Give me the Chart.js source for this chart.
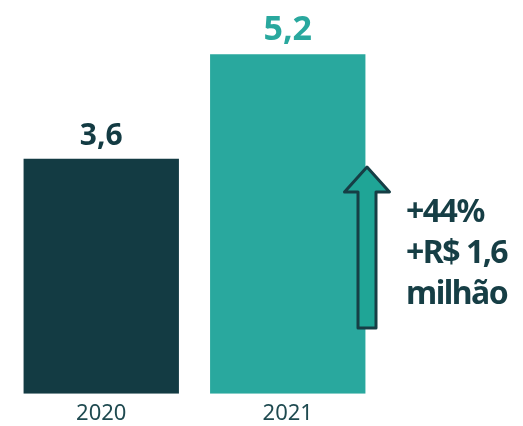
<!DOCTYPE html>
<html>
<head>
<meta charset="utf-8">
<script src="https://cdn.jsdelivr.net/npm/chart.js@4.4.1/dist/chart.umd.min.js"></script>
<style>
  html, body { margin: 0; padding: 0; background: #fff; }
  #wrap { width: 523px; height: 426px; position: relative; }
</style>
</head>
<body>
<div id="wrap"><canvas id="chart"></canvas></div>
<script>
const years = ["2020", "2021"];
const values = [3.6, 5.2];
const valueLabels = ["3,6", "5,2"];
const barColors = ["#133b43", "#29a89e"];
const labelColors = ["#133b43", "#29a89e"];
const labelSizes = [30, 34];
const growthLines = ["+44%", "+R$ 1,6", "milhão"];

const DARK = "#163e45";

// value labels above each bar
const valueLabelPlugin = {
  id: "valueLabels",
  afterDatasetsDraw(chart) {
    const ctx = chart.ctx;
    const meta = chart.getDatasetMeta(0);
    ctx.save();
    ctx.textAlign = "center";
    ctx.textBaseline = "alphabetic";
    meta.data.forEach((bar, i) => {
      ctx.fillStyle = labelColors[i];
      ctx.font = `bold ${labelSizes[i]}px "Noto Sans"`;
      ctx.fillText(valueLabels[i], bar.x, bar.y - 14);
    });
    ctx.restore();
  }
};

// growth arrow + text on the right
const growthPlugin = {
  id: "growth",
  afterDraw(chart) {
    const ctx = chart.ctx;
    const area = chart.chartArea;
    const x0 = area.right - 23;   // shaft left
    const sw = 18, hw = 45;
    const cx = x0 + sw / 2;
    const tip = 167, headBase = 192, bottom = 328;
    ctx.save();
    ctx.beginPath();
    ctx.moveTo(cx, tip);
    ctx.lineTo(cx + hw / 2, headBase);
    ctx.lineTo(x0 + sw, headBase);
    ctx.lineTo(x0 + sw, bottom);
    ctx.lineTo(x0, bottom);
    ctx.lineTo(x0, headBase);
    ctx.lineTo(cx - hw / 2, headBase);
    ctx.closePath();
    ctx.fillStyle = "#1fa596";
    ctx.fill();
    ctx.lineJoin = "round";
    ctx.lineWidth = 3;
    ctx.strokeStyle = DARK;
    ctx.stroke();

    ctx.fillStyle = DARK;
    ctx.font = 'bold 32px "Noto Sans"';
    ctx.textAlign = "left";
    ctx.textBaseline = "alphabetic";
    if ("letterSpacing" in ctx) ctx.letterSpacing = "-1.5px";
    growthLines.forEach((t, i) => {
      ctx.fillText(t, 406, 222 + i * 41);
    });
    ctx.restore();
  }
};

new Chart(document.getElementById("chart"), {
  type: "bar",
  data: {
    labels: years,
    datasets: [{
      data: values,
      backgroundColor: barColors,
      borderWidth: 0,
      barPercentage: 0.833,
      categoryPercentage: 1.0
    }]
  },
  options: {
    responsive: true,
    maintainAspectRatio: false,
    animation: false,
    layout: { padding: { left: 8, right: 142, top: 2, bottom: 0 } },
    plugins: { legend: { display: false }, tooltip: { enabled: false } },
    scales: {
      x: {
        grid: { display: false, drawBorder: false },
        border: { display: false },
        ticks: { color: "#1f4a50", font: { family: "Noto Sans", size: 22, lineHeight: 1.37 }, padding: -3 }
      },
      y: {
        display: false,
        min: 0,
        max: 6
      }
    }
  },
  plugins: [valueLabelPlugin, growthPlugin]
});
</script>
</body>
</html>
